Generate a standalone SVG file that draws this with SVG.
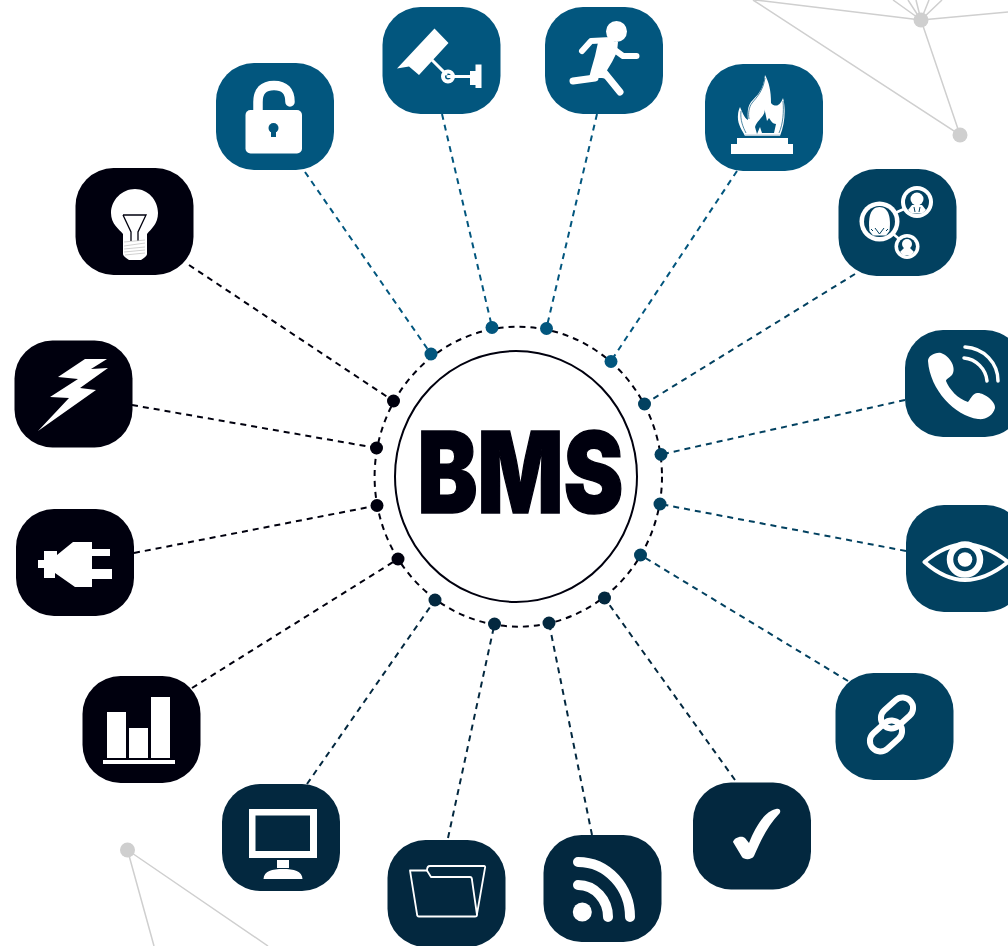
<svg xmlns="http://www.w3.org/2000/svg" width="1008" height="946" viewBox="0 0 1008 946">
<style>
.a{fill:#02567e}.b{fill:#024160}.c{fill:#03283f}.d{fill:#00000e}
.w{fill:#fff;stroke:none}
.l{fill:none;stroke:#fff;stroke-linecap:round;stroke-linejoin:round}
.g{fill:none;stroke:#cfcfcf;stroke-width:1.5}
.gd{fill:#cfcfcf}
.k{fill:none;stroke-width:2;stroke-dasharray:6 5}
.ka{stroke:#02567e}.kb{stroke:#024160}.kc{stroke:#03283f}.kd{stroke:#00000e}
text{font-family:Inter,"Liberation Sans",Arial,sans-serif;font-weight:900}
</style>
<defs><rect id="tile" width="118" height="107" rx="38" ry="38"/></defs>
<g id="background-network">
<path class="g" d="M921 20L755 0M921 20L893 0M921 20L908 0M921 20L916 0M921 20L929 0M921 20L942 0M921 20L1008 12M921 20L960 135L753 0M127.500 850L154 946M127.500 850L268 946"/>
<circle class="gd" cx="921" cy="20" r="7.500"/><circle class="gd" cx="960" cy="135" r="7.500"/><circle class="gd" cx="127.500" cy="850" r="7.500"/>
</g>
<g id="connectors">
<path class="k ka" d="M305 172L431 354M442 114L492 327M597 114L546.500 328M737 171L611 361"/>
<path class="k kb" d="M855 274L644.500 404M905 400L661 454.500M906 551L660 504M848 681L640.500 555"/>
<path class="k kc" d="M735 780L604.500 598M592 835L549 623M448 838L494.500 624M307 784L435 600"/>
<path class="k kd" d="M192 688L398 559M134 553L377 505.500M132 405L376.500 448M189 265L393.500 401"/>
<ellipse class="k kd" cx="518.300" cy="476.700" rx="143.700" ry="150"/>
</g>
<g id="hub">
<ellipse cx="516" cy="476.500" rx="121" ry="125.500" fill="#fff" stroke="#00000e" stroke-width="2"/>
<text x="520.500" y="512.500" font-size="113" text-anchor="middle" fill="#00000e" stroke="#00000e" stroke-width="1.500" textLength="206" lengthAdjust="spacingAndGlyphs">BMS</text>
</g>
<g id="ports">
<g class="a"><circle cx="431" cy="354" r="6.500"/><circle cx="492" cy="327.500" r="6.500"/><circle cx="546.500" cy="328.500" r="6.500"/><circle cx="611" cy="361.500" r="6.500"/></g>
<g class="b"><circle cx="644.500" cy="404" r="6.500"/><circle cx="661" cy="454.500" r="6.500"/><circle cx="660" cy="504" r="6.500"/><circle cx="640.500" cy="555" r="6.500"/></g>
<g class="c"><circle cx="604.500" cy="598" r="6.500"/><circle cx="549" cy="623" r="6.500"/><circle cx="494.500" cy="624" r="6.500"/><circle cx="435" cy="600" r="6.500"/></g>
<g class="d"><circle cx="398" cy="559" r="6.500"/><circle cx="377" cy="505.500" r="6.500"/><circle cx="376.500" cy="448" r="6.500"/><circle cx="393.500" cy="401" r="6.500"/></g>
</g>
<g id="lock"><use href="#tile" x="216" y="63" class="a"/>
<path class="l" stroke-width="9.500" stroke-linecap="butt" d="M258 112V102Q258 85.500 274 85.500Q290 85.500 290 102"/>
<rect class="w" x="245.500" y="110" width="56.500" height="43.500" rx="5"/>
<circle class="a" cx="273.500" cy="128" r="5"/><rect class="a" x="271" y="128" width="5" height="9"/></g>
<g id="camera"><use href="#tile" x="382.500" y="7" class="a"/>
<path class="w" d="M434.500 28.500L448.500 43L419 75L409 66.500L397 68.500Z"/>
<path class="l" stroke-width="3" stroke-linecap="butt" d="M432 60L446 74M448 76.500H471"/>
<circle class="l" cx="448" cy="76.500" r="5" stroke-width="4"/>
<path class="w" d="M470 71H475.500V64.500H481.500V88H475.500V85H470Z"/></g>
<g id="runner"><use href="#tile" x="545" y="7" class="a"/>
<circle class="w" cx="616.500" cy="31.500" r="10.500"/>
<path class="l" stroke-width="6" d="M582 51L591 41L611 40"/>
<path class="w" d="M599 38L618 42L617 52L612 62L606 72L612 80L602 78L589 78L591 70L595 56Z"/>
<path class="l" stroke-width="6" d="M612 48L623 56L636.500 56"/>
<path class="l" stroke-width="7" d="M573 81L595 78"/>
<path class="l" stroke-width="7" d="M603 71L620 92"/></g>
<g id="flame"><use href="#tile" x="705" y="64" class="a"/>
<path class="w" d="M765 75C769 82 771 91 771 103C773 106 777 106 778 105C780 104 782 101 783 98C786 108 785 124 780 136H745C742 130 737 124 738 115C738 112 739 109 740 107C742 111 744 118 748 120C747 112 748 106 751 102C756 96 763 92 765 75Z"/>
<path fill="none" stroke="#02567e" stroke-width="0.700" d="M765 78C763 91 757 97 752 103C749 107 748 113 749 119M741 111C740 120 743 127 746 133M783 101C784 112 783 124 779 133"/>
<path class="a" d="M764.500 109C766 116 757 120 755 127L757 134L760 127L762 133H774L776 124C773 124 771 121 769 118L767 121Z"/>
<rect x="745" y="134.500" width="35" height="1.500" fill="#b9ccd7"/>
<rect class="w" x="737" y="138" width="51" height="6"/><rect class="w" x="731" y="144" width="62" height="10"/></g>
<g id="people"><use href="#tile" x="838.500" y="169" class="b"/>
<path class="l" stroke-width="2.500" d="M895 213L904 209M892 233L898 238"/>
<circle class="w" cx="879.500" cy="221.500" r="20"/><circle class="b" cx="879.500" cy="221.500" r="15.500"/>
<path class="w" d="M869.500 231C868 218 870 207 879.500 207C889 207 891 218 889.500 231L886 235.500H873Z"/>
<path fill="none" stroke="#024160" stroke-width="1" d="M871 229L873 231M875 228L879.500 234L884 228M886 231L888 229"/>
<circle class="w" cx="917" cy="202" r="16"/><circle class="b" cx="917" cy="202" r="12"/>
<circle class="w" cx="917" cy="199" r="6.500"/><path class="w" d="M908 210L912 205H922L926 210L922 213.500H912Z"/>
<path fill="none" stroke="#024160" stroke-width="1" d="M914 207L915 212M920 207L919 212"/>
<circle class="w" cx="907" cy="246.500" r="12.500"/><circle class="b" cx="907" cy="246.500" r="9"/>
<circle class="w" cx="907" cy="244" r="5"/><path class="w" d="M900 252L904 248H910L914 252L911 255H903Z"/></g>
<g id="phone"><use href="#tile" x="905" y="330" class="b"/>
<path class="w" d="M928 361C928 356 935 352 941 353C950 356 957 368 952 375C949 378 946 379 946 381C949 389 958 399 968 402C970 400 972 394 977 393C983 392 996 401 995 408C993 416 985 420 978 419C955 416 930 390 928 361Z"/>
<path class="l" stroke-width="3.500" d="M964 358C976 359 986 369 987 381M965 347C984 348 998 363 998 381"/></g>
<g id="eye"><use href="#tile" x="906" y="505" class="b"/>
<path class="l" stroke-width="4" d="M924.500 562Q945 544.500 965 544.500Q986 544.500 1008 562Q986 580 965 580Q945 580 924.500 562Z"/>
<circle class="l" cx="965" cy="559.500" r="15" stroke-width="6.500" stroke-linecap="butt"/>
<circle class="w" cx="965" cy="559.500" r="7.300"/></g>
<g id="link"><use href="#tile" x="835.500" y="673" class="b"/>
<rect class="l" x="-18" y="-10.500" width="36" height="21" rx="10.500" stroke-width="6" transform="translate(897 713) rotate(-42)"/>
<rect class="l" x="-18" y="-10.500" width="36" height="21" rx="10.500" stroke-width="6" transform="translate(886 736) rotate(-42)"/></g>
<g id="check"><use href="#tile" x="693" y="782.500" class="c"/>
<path class="w" d="M733 842C734 838 741 835 745 838L749 843C755 827 765 811 776 809C781 808 781 812 779 814C768 825 760 842 754 856C752 860 744 860 742 857Z"/></g>
<g id="rss"><use href="#tile" x="543.500" y="835" class="c"/>
<circle class="w" cx="582.300" cy="912" r="9.500"/>
<path class="l" stroke-width="10" d="M578 885C595 885 608 900 608 917M578 862C608 862 630 888 630 917"/></g>
<g id="folder"><use href="#tile" x="387.500" y="840" class="c"/>
<path class="l" stroke-width="1.800" d="M410 870.500H427L431 877H470C471 877 472 878 472 880L477 915C477 916 476 916.500 475 916.500H419C418 916.500 417 916 417 914Z"/>
<path class="l" stroke-width="1.800" d="M427 870.500C427 867 428 866 430 866H484C485 866 485.500 867 485 868L477 914"/></g>
<g id="monitor"><use href="#tile" x="222" y="784" class="c"/>
<path class="w" fill-rule="evenodd" d="M249 809H317V858H249ZM255.500 815.500V851H310V815.500Z"/>
<rect class="w" x="277" y="860" width="12" height="8"/>
<path class="w" d="M263.500 879C264 871 272 869 283 869C294 869 302 871 302.500 879Z"/></g>
<g id="chart"><use href="#tile" x="82.500" y="676" class="d"/>
<rect class="w" x="107" y="712" width="19" height="46"/><rect class="w" x="129" y="728" width="19" height="30"/><rect class="w" x="151" y="697" width="19" height="61"/><rect class="w" x="103" y="760" width="72" height="4"/></g>
<g id="plug"><use href="#tile" x="16" y="509" class="d"/>
<path class="w" d="M38 560H44V551H57V555L73 542H92V549H110V556H92V569H112V579H92V587H75L55 573V578H44V568H38Z"/></g>
<g id="bolt"><use href="#tile" x="14.500" y="340.500" class="d"/>
<path class="w" d="M85 359H107L91 369L108 368L80 388L96 390L38 431L69 398L50 397L78 379L58 377Z"/></g>
<g id="bulb"><use href="#tile" x="75.500" y="168" class="d"/>
<path class="w" d="M135 189C148 189 158 200 158 213C158 224 151 229 147 234V254C147 256 144 258 141 260H129C126 258 123 256 123 254V234C119 229 111 224 111 213C111 200 122 189 135 189Z"/>
<path fill="none" stroke="#00000e" stroke-width="1.300" d="M123 215H146L138 232V241M123 215L131 232V241"/>
<path fill="none" stroke="#bdbdbd" stroke-width="0.700" d="M124 242L145 240M124 246L145 243M124 249L145 247M124 252L145 250M125 255L145 253"/></g>
</svg>
